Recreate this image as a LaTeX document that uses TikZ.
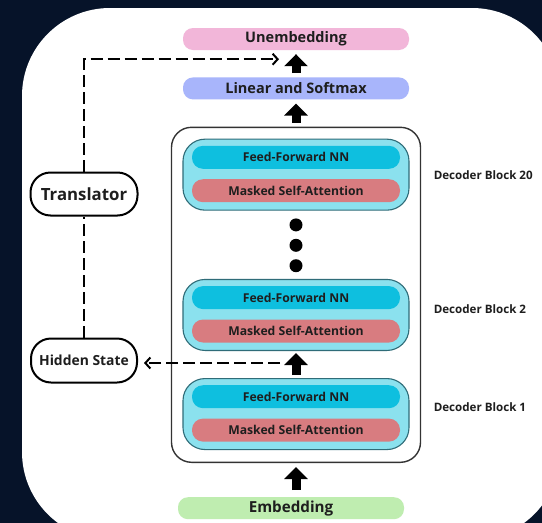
\documentclass[tikz,border=0pt]{standalone}
\usepackage{fontspec}
\setmainfont{Open Sans}
\usetikzlibrary{positioning, arrows.meta}

\definecolor{navybg}{HTML}{061329}
\definecolor{unembpink}{HTML}{F2B6D9}
\definecolor{linearblue}{HTML}{A8B5FB}
\definecolor{cellcyan}{HTML}{8BE1EE}
\definecolor{cellborder}{HTML}{2F6C78}
\definecolor{ffncyan}{HTML}{0EBFDF}
\definecolor{msared}{HTML}{D87C80}
\definecolor{embedgreen}{HTML}{BFEDB0}
\definecolor{inkdark}{HTML}{1E1E1E}

\begin{document}
\begin{tikzpicture} [
        x=1pt, y=1pt,
        pill/.style={rectangle, rounded corners=10pt, minimum width=226pt, minimum height=22pt, inner sep=0pt, text=inkdark, font=\bfseries\fontsize{14.5}{16}\selectfont},
        outer/.style={rectangle, draw=black!80, line width=1.4pt, fill=white, rounded corners=20pt, minimum width=249pt, minimum height=335pt},
        cell/.style={rectangle, draw=cellborder, line width=1.1pt, fill=cellcyan, rounded corners=22pt, minimum width=226pt, minimum height=71pt},
        layer/.style={rectangle, rounded corners=11pt, minimum width=208pt, minimum height=23pt, inner sep=0pt, text=inkdark, font=\bfseries\fontsize{12.2}{14}\selectfont},
        dot/.style={circle, fill=black, minimum size=13pt, inner sep=0pt},
        side/.style={rectangle, draw=black, line width=2pt, fill=white, rounded corners=20pt, inner sep=0pt, text=inkdark},
        tag/.style={text=inkdark, inner sep=0pt, font=\bfseries\fontsize{11.6}{13}\selectfont},
        bigarrow/.style={draw, line width=9pt, -{Triangle[width=23pt, length=12pt]}},
        dashline/.style={draw, line width=2.2pt, dash pattern=on 12pt off 5pt, -{Straight Barb[length=5pt, width=11pt, line width=2pt]}}
    ]
        % Frame
        \useasboundingbox (0,0) rectangle (542,-523);
        \fill[navybg] (0,0) rectangle (542,-523);
        \begin{scope}
            \clip (0,0) rectangle (542,-523);
            \fill[white, rounded corners=88pt] (22,-8) rectangle (560,-540);
        \end{scope}

        % Nodes
        \node[pill, fill=unembpink] (unemb) at (296,-39) {Unembedding};
        \node[pill, fill=linearblue, below=27pt of unemb] (linear) {Linear and Softmax};

        \node[outer, below=27pt of linear] (decoder) {};

        \node[cell, below=12pt of decoder.north] (blk20) {};
        \node[layer, fill=ffncyan, below=7pt of blk20.north] (ffn20) {Feed-Forward NN};
        \node[layer, fill=msared, below=10pt of ffn20] (msa20) {Masked Self-Attention};

        \node[dot, below=7.5pt of blk20] (dot1) {};
        \node[dot, below=7pt of dot1] (dot2) {};
        \node[dot, below=7pt of dot2] (dot3) {};

        \node[cell, below=6.5pt of dot3] (blk2) {};
        \node[layer, fill=ffncyan, below=7pt of blk2.north] (ffn2) {Feed-Forward NN};
        \node[layer, fill=msared, below=10pt of ffn2] (msa2) {Masked Self-Attention};

        \node[cell, below=27pt of blk2] (blk1) {};
        \node[layer, fill=ffncyan, below=7pt of blk1.north] (ffn1) {Feed-Forward NN};
        \node[layer, fill=msared, below=10pt of ffn1] (msa1) {Masked Self-Attention};

        \node[pill, fill=embedgreen, font=\bfseries\fontsize{15.2}{17}\selectfont, below=34pt of decoder, xshift=-5pt] (embed) {Embedding};

        \node[tag, right=24pt of blk20] (tag20) {Decoder Block 20};
        \node[tag, right=24pt of blk2, yshift=6pt] (tag2) {Decoder Block 2};
        \node[tag, right=24pt of blk1, yshift=7pt] (tag1) {Decoder Block 1};

        \node[side, minimum width=107pt, minimum height=43pt, font=\bfseries\fontsize{16.8}{19}\selectfont] (translator) at (84,-194) {Translator};
        \node[side, minimum width=106pt, minimum height=44pt, font=\bfseries\fontsize{13.9}{16}\selectfont, below=121pt of translator] (hidden) {Hidden State};

        % Paths
        \path[bigarrow, shorten <=4pt, shorten >=4pt] (linear) -- (unemb);
        \path[bigarrow, shorten <=4pt, shorten >=4pt] (decoder) -- (linear);
        \path[bigarrow, shorten <=3pt, shorten >=2pt] (blk1) -- (blk2);
        \path[bigarrow, shorten <=7pt, shorten >=4pt] (embed.north -| decoder.south) -- (decoder.south);

        \path[dashline] (translator.north) |- ([xshift=-17pt, yshift=-9pt]unemb.south);
        \path[dashline, -] (hidden.north) -- (translator.south);
        \path[dashline, shorten >=6pt] ([xshift=-16pt, yshift=-12pt]blk2.south) coordinate (tap) -- (tap -| hidden.east);
    \end{tikzpicture}
\end{document}
